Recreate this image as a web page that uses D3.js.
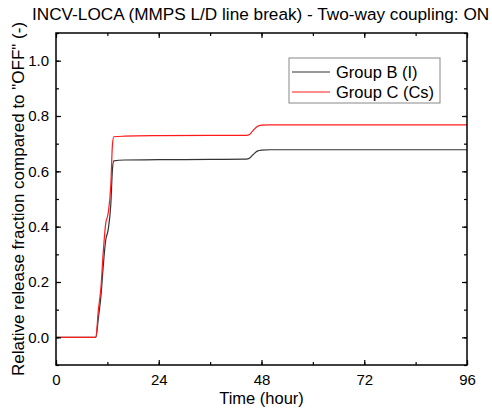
<!DOCTYPE html>
<html>
<head>
<meta charset="utf-8">
<script src="https://cdn.jsdelivr.net/npm/d3@7"></script>
<style>
  body { margin: 0; background: #fff; }
  text { font-family: "Liberation Sans", Arial, sans-serif; fill: #000; }
</style>
</head>
<body>
<div id="chart"></div>
<script>
// time in hours
const timeH = [0, 9.3, 9.9, 10.5, 11.0, 11.6, 12.2, 12.8, 13.2, 13.5, 16, 24, 36, 44, 45, 46, 47, 48, 50, 60, 72, 84, 96];
const groupB = [0, 0, 0.07, 0.15, 0.25, 0.35, 0.39, 0.48, 0.61, 0.638, 0.641, 0.642, 0.643, 0.644, 0.646, 0.66, 0.673, 0.677, 0.678, 0.678, 0.678, 0.678, 0.678];
const groupC = [0, 0, 0.1, 0.18, 0.3, 0.41, 0.45, 0.55, 0.70, 0.725, 0.727, 0.729, 0.73, 0.73, 0.732, 0.747, 0.762, 0.767, 0.768, 0.768, 0.768, 0.768, 0.768];
const seriesNames = ["Group B (I)", "Group C (Cs)"];
const xTicks = [0, 24, 48, 72, 96];
const yTicks = [0.0, 0.2, 0.4, 0.6, 0.8, 1.0];

const width = 492, height = 414;
const margin = { top: 33, right: 25, bottom: 49, left: 56 };
const w = width - margin.left - margin.right;
const h = height - margin.top - margin.bottom;

const svg = d3.select("#chart").append("svg")
  .attr("width", width)
  .attr("height", height);

const g = svg.append("g")
  .attr("transform", `translate(${margin.left},${margin.top})`);

const x = d3.scaleLinear().domain([0, 96]).range([0, w]);
const y = d3.scaleLinear().domain([-0.1, 1.1]).range([h, 0]);

const colors = ["#333333", "#ff1a1a"];
const series = [groupB, groupC];

// lines
const line = d3.line()
  .x((d, i) => x(timeH[i]))
  .y(d => y(d))
  .curve(d3.curveMonotoneX);

series.forEach((s, k) => {
  g.append("path")
    .datum(s)
    .attr("fill", "none")
    .attr("stroke", colors[k])
    .attr("stroke-width", 1.2)
    .attr("d", line);
});

// axes (ticks inside)
const minorX = d3.range(0, 97, 12);
const minorY = d3.range(-0.1, 1.11, 0.1).map(v => +v.toFixed(2));

function styleAxis(sel) {
  sel.select(".domain").remove();
  sel.selectAll("line").attr("stroke", "#000").attr("stroke-width", 1.2);
  sel.selectAll("text").attr("font-size", 15);
}

g.append("g").attr("transform", `translate(0,${h})`)
  .call(d3.axisBottom(x).tickValues(minorX).tickSize(-3).tickFormat(""))
  .call(styleAxis);
g.append("g").attr("transform", `translate(0,${h})`)
  .call(d3.axisBottom(x).tickValues(xTicks).tickSize(-5).tickPadding(9).tickFormat(d3.format("d")))
  .call(styleAxis);
g.append("g")
  .call(d3.axisTop(x).tickValues(minorX).tickSize(-3).tickFormat(""))
  .call(styleAxis);
g.append("g")
  .call(d3.axisTop(x).tickValues(xTicks).tickSize(-5).tickFormat(""))
  .call(styleAxis);

g.append("g")
  .call(d3.axisLeft(y).tickValues(minorY).tickSize(-3).tickFormat(""))
  .call(styleAxis);
g.append("g")
  .call(d3.axisLeft(y).tickValues(yTicks).tickSize(-5).tickPadding(7).tickFormat(d3.format(".1f")))
  .call(styleAxis);
g.append("g").attr("transform", `translate(${w},0)`)
  .call(d3.axisRight(y).tickValues(minorY).tickSize(-3).tickFormat(""))
  .call(styleAxis);
g.append("g").attr("transform", `translate(${w},0)`)
  .call(d3.axisRight(y).tickValues(yTicks).tickSize(-5).tickFormat(""))
  .call(styleAxis);

// frame
g.append("rect")
  .attr("width", w).attr("height", h)
  .attr("fill", "none")
  .attr("stroke", "#000")
  .attr("stroke-width", 1.5);

// legend
const lg = svg.append("g").attr("transform", "translate(289,58)");
lg.append("rect")
  .attr("width", 151).attr("height", 45)
  .attr("fill", "#fff")
  .attr("stroke", "#888")
  .attr("stroke-width", 1);
seriesNames.forEach((name, k) => {
  const yy = 14 + k * 20;
  lg.append("line")
    .attr("x1", 3).attr("x2", 41)
    .attr("y1", yy).attr("y2", yy)
    .attr("stroke", colors[k]).attr("stroke-width", 1.2);
  lg.append("text")
    .attr("x", 47).attr("y", yy + 6)
    .attr("font-size", 16.5)
    .text(name);
});

// y-axis title (drawn first so the chart title sits over its end)
svg.append("text")
  .attr("transform", `translate(24,199) rotate(-90)`)
  .attr("text-anchor", "middle")
  .attr("font-size", 17)
  .text("Relative release fraction compared to \"OFF\" (-)");

// titles
svg.append("rect")
  .attr("x", 30).attr("y", 0).attr("width", width - 30).attr("height", 25)
  .attr("fill", "#fff");
svg.append("text")
  .attr("x", 32).attr("y", 20)
  .attr("font-size", 17.2)
  .text("INCV-LOCA (MMPS L/D line break) - Two-way coupling: ON");

svg.append("text")
  .attr("x", margin.left + w / 2).attr("y", 404)
  .attr("text-anchor", "middle")
  .attr("font-size", 16.5)
  .text("Time (hour)");
</script>
</body>
</html>
